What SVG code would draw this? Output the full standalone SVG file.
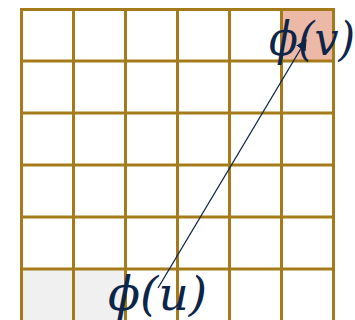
<svg xmlns="http://www.w3.org/2000/svg" width="355" height="320" viewBox="0 0 355 320">
<style>
.grid{stroke:#A57A1B;stroke-width:3;fill:none}
.lbl{font-family:"DejaVu Serif","Liberation Serif",serif;font-style:italic;font-size:46px;fill:#0C2548}
.edge{stroke:#0C2548;stroke-width:1.3;fill:none}
</style>
<defs>
<marker id="ah" viewBox="0 0 10 10" refX="9" refY="5" markerWidth="11" markerHeight="11" markerUnits="userSpaceOnUse" orient="auto">
<path d="M0,0 L10,5 L0,10 z" fill="#0C2548"/>
</marker>
</defs>
<rect width="355" height="320" fill="#fff"/>
<g id="cells">
<rect x="21.5" y="269" width="104" height="51" fill="#F0F0F0"/>
<rect x="281.5" y="9" width="52" height="52" fill="#EDB9A7"/>
</g>
<g id="grid" class="grid">
<path d="M21.5,9V320M73.5,9V320M125.5,9V320M177.5,9V320M229.5,9V320M281.5,9V320M333.5,9V320"/>
<path d="M20,9.5H335M20,61H335M20,113H335M20,165H335M20,217H335M20,269H335"/>
</g>
<g id="node-v"><text class="lbl" x="269" y="55" textLength="86" lengthAdjust="spacingAndGlyphs">ϕ(v)</text></g>
<g id="node-u"><text class="lbl" x="108" y="310" textLength="99" lengthAdjust="spacingAndGlyphs">ϕ(u)</text></g>
<g id="edges">
<line class="edge" x1="158" y1="288" x2="306" y2="40" marker-end="url(#ah)"/>
</g>
</svg>
